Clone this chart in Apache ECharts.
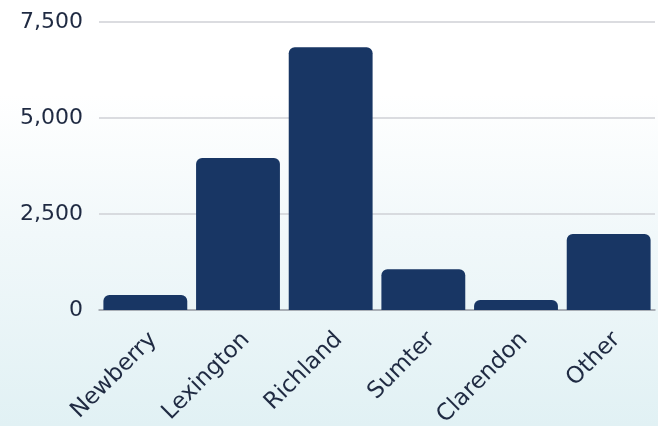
<!DOCTYPE html>
<html>
<head>
<meta charset="utf-8">
<script src="https://cdn.jsdelivr.net/npm/echarts@6/dist/echarts.min.js"></script>
<style>
html,body{margin:0;padding:0;}
#c{width:658px;height:426px;background:linear-gradient(to bottom,#ffffff 0%,#ffffff 22%,#f1f8fa 55%,#e1f1f4 100%);}
</style>
</head>
<body>
<div id="c"></div>
<script>
const categories = ['Newberry','Lexington','Richland','Sumter','Clarendon','Other'];
const values = [390, 3960, 6840, 1060, 260, 1980];
const yTicks = [0, 2500, 5000, 7500];

const chart = echarts.init(document.getElementById('c'), null, {renderer:'canvas'});
chart.setOption({
  animation:false,
  grid:{left:99, right:3, top:22, bottom:116, containLabel:false, outerBoundsMode:'none'},
  xAxis:{
    type:'category',
    data:categories,
    axisTick:{show:false},
    axisLine:{show:true, lineStyle:{color:'#9aa0a8', width:1.5}},
    axisLabel:{
      rotate:45, margin:18, interval:0, verticalAlign:'top',
      fontFamily:'DejaVu Sans', fontSize:23, color:'#1f2a42'
    }
  },
  yAxis:{
    type:'value',
    min:yTicks[0], max:yTicks[yTicks.length-1], interval:2500,
    axisLine:{show:false}, axisTick:{show:false},
    splitLine:{lineStyle:{color:'#cfd1d6', width:1.5}},
    axisLabel:{
      margin:16,
      fontFamily:'DejaVu Sans', fontSize:22, color:'#1f2a42',
      formatter:v=>v.toLocaleString('en-US')
    }
  },
  series:[{
    type:'bar',
    data:values,
    barCategoryGap:'9.5%',
    itemStyle:{color:'#183664', borderRadius:[6,6,0,0]}
  }]
});
</script>
</body>
</html>
